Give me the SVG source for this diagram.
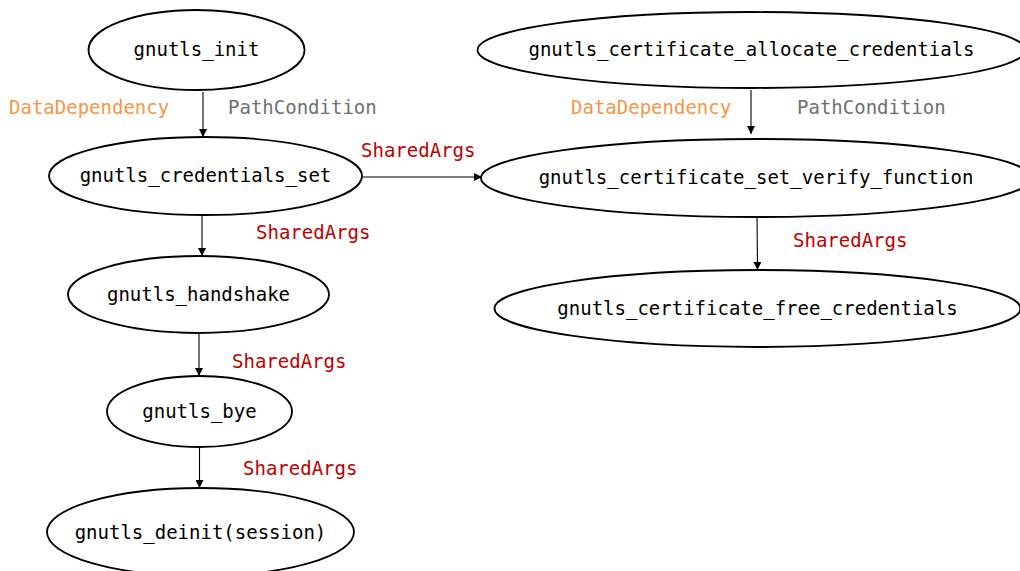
<svg xmlns="http://www.w3.org/2000/svg" width="1020" height="571" viewBox="0 0 1020 571">
<defs>
<style>
.node ellipse{fill:#fff;stroke:#000;stroke-width:1.8}
.node text{font-family:"DejaVu Sans Mono","Liberation Mono",monospace;font-size:19px;fill:#000;text-anchor:middle}
.edge line{stroke:#000;stroke-width:1.1;marker-end:url(#arr)}
.lbl{font-family:"DejaVu Sans Mono","Liberation Mono",monospace;font-size:19px}
.dd{fill:#F79646}
.pc{fill:#707070}
.sa{fill:#C00000}
</style>
<marker id="arr" viewBox="0 0 10 10" refX="10" refY="5" markerWidth="8" markerHeight="8" markerUnits="userSpaceOnUse" orient="auto">
<path d="M0,0 L10,5 L0,10 z" fill="#000"/>
</marker>
</defs>
<rect width="1020" height="571" fill="#fff"/>
<g id="connectors" class="edge">
<line x1="203" y1="92" x2="203" y2="137"/>
<line x1="202" y1="215" x2="202" y2="256"/>
<line x1="199" y1="333" x2="199" y2="376"/>
<line x1="199.5" y1="447" x2="199.5" y2="488"/>
<line x1="362" y1="177" x2="482" y2="177"/>
<line x1="751" y1="90" x2="751" y2="134"/>
<line x1="757" y1="212" x2="757.5" y2="270"/>
</g>
<g id="edge-labels">
<text class="lbl dd" x="9" y="114">DataDependency</text>
<text class="lbl pc" x="228" y="114">PathCondition</text>
<text class="lbl sa" x="361" y="157">SharedArgs</text>
<text class="lbl sa" x="256" y="239">SharedArgs</text>
<text class="lbl sa" x="232" y="368">SharedArgs</text>
<text class="lbl sa" x="243" y="475">SharedArgs</text>
<text class="lbl dd" x="571" y="114">DataDependency</text>
<text class="lbl pc" x="797" y="114">PathCondition</text>
<text class="lbl sa" x="793" y="247">SharedArgs</text>
</g>
<g id="n_init" class="node"><ellipse cx="196.5" cy="50" rx="108" ry="40"/><text x="196.5" y="56">gnutls_init</text></g>
<g id="n_cred_set" class="node"><ellipse cx="205.5" cy="176" rx="156.5" ry="39"/><text x="205.5" y="182">gnutls_credentials_set</text></g>
<g id="n_handshake" class="node"><ellipse cx="198.5" cy="294.5" rx="130.5" ry="38.5"/><text x="198.5" y="300.5">gnutls_handshake</text></g>
<g id="n_bye" class="node"><ellipse cx="199.5" cy="411.5" rx="92.5" ry="35.5"/><text x="199.5" y="417.5">gnutls_bye</text></g>
<g id="n_deinit" class="node"><ellipse cx="200.5" cy="532" rx="153.5" ry="44"/><text x="200.5" y="539">gnutls_deinit(session)</text></g>
<g id="n_alloc" class="node"><ellipse cx="751.5" cy="50" rx="274" ry="38"/><text x="751.5" y="56">gnutls_certificate_allocate_credentials</text></g>
<g id="n_verify" class="node"><ellipse cx="756" cy="178" rx="275" ry="39"/><text x="756" y="184">gnutls_certificate_set_verify_function</text></g>
<g id="n_free" class="node"><ellipse cx="757.5" cy="308.5" rx="263" ry="38.5"/><text x="757.5" y="314.5">gnutls_certificate_free_credentials</text></g>
</svg>
